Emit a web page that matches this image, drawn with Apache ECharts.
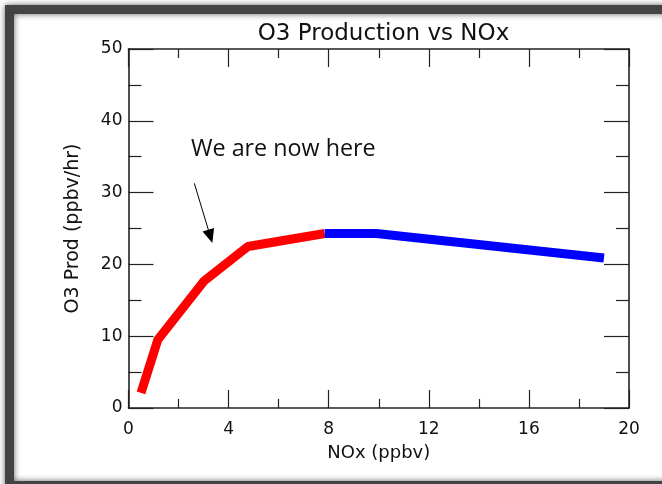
<!DOCTYPE html>
<html>
<head>
<meta charset="utf-8">
<script src="https://cdn.jsdelivr.net/npm/echarts@6/dist/echarts.min.js"></script>
<style>
html,body{margin:0;padding:0;background:#fff;}
#c{width:662px;height:484px;}
</style>
</head>
<body>
<div id="c"></div>
<script>
// Data
const titleText = 'O3 Production vs NOx';
const xName = 'NOx (ppbv)';
const yName = 'O3 Prod (ppbv/hr)';
const xTicks = [0, 4, 8, 12, 16, 20];
const yTicks = [0, 10, 20, 30, 40, 50];
const redX = [0.5, 1.17, 3.02, 4.77, 7.84];
const redY = [2.1, 9.5, 17.7, 22.5, 24.3];
const blueX = [7.84, 9.9, 19.0];
const blueY = [24.3, 24.3, 20.9];
const noteText = 'We are now here';
const arrowFrom = [2.63, 31.3];
const arrowTo = [3.27, 23.9];

const toPairs = (xs, ys) => xs.map((x, i) => [x, ys[i]]);
const chart = echarts.init(document.getElementById('c'), null, {renderer: 'canvas'});
const axisFont = 'DejaVu Sans';
const axisCol = '#222';

const xCommon = {
  type: 'value', min: xTicks[0], max: xTicks[xTicks.length - 1], interval: xTicks[1] - xTicks[0],
  axisLine: {show: true, onZero: false, lineStyle: {color: axisCol, width: 1.6}},
  axisTick: {show: true, inside: true, length: 18, lineStyle: {color: axisCol, width: 1.2}},
  minorTick: {show: true, splitNumber: 2, length: 9, lineStyle: {color: axisCol, width: 1.2}},
  splitLine: {show: false}, minorSplitLine: {show: false}
};
const yCommon = {
  type: 'value', min: yTicks[0], max: yTicks[yTicks.length - 1], interval: yTicks[1] - yTicks[0],
  axisLine: {show: true, onZero: false, lineStyle: {color: axisCol, width: 1.6}},
  axisTick: {show: true, inside: true, length: 25, lineStyle: {color: axisCol, width: 1.2}},
  minorTick: {show: true, splitNumber: 2, length: 13, lineStyle: {color: axisCol, width: 1.2}},
  splitLine: {show: false}, minorSplitLine: {show: false}
};

chart.setOption({
  animation: false,
  backgroundColor: '#fff',
  title: {
    text: titleText, left: 378.5, top: 18, textAlign: 'center',
    textStyle: {fontFamily: axisFont, fontWeight: 'normal', fontSize: 23, color: '#111'}
  },
  grid: {left: 128.5, right: 33, top: 49, bottom: 76},
  xAxis: [
    Object.assign({}, xCommon, {
      position: 'bottom',
      name: xName, nameLocation: 'middle', nameGap: 36,
      nameTextStyle: {fontFamily: axisFont, fontSize: 18, color: '#111'},
      axisLabel: {show: true, margin: 13, fontFamily: axisFont, fontSize: 17, color: '#111'}
    }),
    Object.assign({}, xCommon, {position: 'top', axisLabel: {show: false}})
  ],
  yAxis: [
    Object.assign({}, yCommon, {
      position: 'left',
      name: yName, nameLocation: 'middle', nameGap: 46, nameRotate: 90,
      nameTextStyle: {fontFamily: axisFont, fontSize: 19, color: '#111'},
      axisLabel: {show: true, margin: 6, fontFamily: axisFont, fontSize: 17, color: '#111'}
    }),
    Object.assign({}, yCommon, {position: 'right', axisLabel: {show: false}})
  ],
  series: [
    {
      type: 'line', data: toPairs(redX, redY), showSymbol: false, symbol: 'none',
      lineStyle: {color: '#ff0000', width: 9, cap: 'butt', join: 'bevel'},
      markLine: {
        silent: true, symbol: ['none', 'triangle'], symbolSize: [12, 14],
        label: {show: false},
        lineStyle: {color: '#000', width: 1, type: 'solid'},
        data: [[{coord: arrowFrom}, {coord: arrowTo}]]
      }
    },
    {
      type: 'line', data: toPairs(blueX, blueY), showSymbol: false, symbol: 'none',
      lineStyle: {color: '#0000ff', width: 9, cap: 'butt', join: 'bevel'}
    }
  ],
  graphic: [
    {
      type: 'rect', z: 100, silent: true,
      shape: {x: 9.5, y: 9.5, width: 700, height: 476},
      style: {fill: 'none', stroke: '#434343', lineWidth: 9, shadowBlur: 6, shadowColor: 'rgba(0,0,0,0.6)'}
    },
    {
      type: 'text', z: 100, left: 191, top: 138,
      style: {text: noteText, fontFamily: 'Open Sans', fontSize: 23.3, fill: '#111'}
    }
  ]
});
</script>
</body>
</html>
